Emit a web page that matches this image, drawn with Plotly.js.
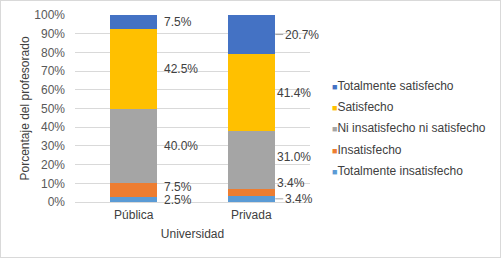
<!DOCTYPE html>
<html><head><meta charset="utf-8">
<script src="https://cdn.plot.ly/plotly-3.0.1.min.js"></script>
<style>html,body{margin:0;padding:0;background:#fff}#c{width:499px;height:256px;border:1px solid #d9d9d9}</style>
</head><body><div id="c"></div>
<script>
const categories = ["Pública", "Privada"];
const seriesNames = ["Totalmente insatisfecho", "Insatisfecho", "Ni insatisfecho ni satisfecho", "Satisfecho", "Totalmente satisfecho"];
const totalmenteInsatisfecho = [2.5, 3.4];
const insatisfecho = [7.5, 3.4];
const niNi = [40.0, 31.0];
const satisfecho = [42.5, 41.4];
const totalmenteSatisfecho = [7.5, 20.7];
const yTicks = [0,10,20,30,40,50,60,70,80,90,100];
const yTickLabels = yTicks.map(v => v + "%");

const values = [totalmenteInsatisfecho, insatisfecho, niNi, satisfecho, totalmenteSatisfecho];
const colors = ["#5B9BD5", "#ED7D31", "#A5A5A5", "#FFC000", "#4472C4"];
const font = "Liberation Sans, Arial, sans-serif";

const traces = values.map((v, i) => ({
  type: "bar", x: categories, y: v, name: seriesNames[i],
  marker: {color: colors[i]}, width: 0.4, showlegend: false, hoverinfo: "none"
}));

// label nudges (px) for small overlapping segments: [series][category]
const yNudge = [[0, 0], [3, 9], [0, 3], [0, 0], [0, 0]];
const leader = [[false, true], [false, false], [false, false], [false, false], [false, true]];
const annotations = [];
categories.forEach((c, ci) => {
  let cum = 0;
  values.forEach((v, si) => {
    const mid = cum + v[ci] / 2;
    cum += v[ci];
    const a = {
      x: c, y: mid, xref: "x", yref: "y", text: v[ci].toFixed(1) + "%",
      font: {family: font, size: 12, color: "#404040"},
      xanchor: "left", yanchor: "middle", yshift: yNudge[si][ci]
    };
    if (leader[si][ci]) {
      Object.assign(a, {showarrow: true, arrowhead: 0, arrowwidth: 1, arrowcolor: "#a6a6a6",
        ax: 8, ay: 0, xshift: 24, standoff: 0});
    } else {
      Object.assign(a, {showarrow: false, xshift: ci === 0 ? 28 : 24});
    }
    annotations.push(a);
  });
});
// legend (top entry = last series)
for (let k = 0; k < seriesNames.length; k++) {
  const si = seriesNames.length - 1 - k;
  annotations.push({
    xref: "paper", yref: "paper", x: 1.085, y: 0.62 - k * 0.1134,
    xanchor: "left", yanchor: "middle", showarrow: false,
    text: '<span style="color:' + colors[si] + ';font-size:9px">■</span>' + seriesNames[si],
    font: {family: font, size: 12, color: "#404040"}
  });
}

const layout = {
  width: 499, height: 256,
  margin: {l: 74, r: 190, t: 14, b: 55},
  barmode: "stack",
  paper_bgcolor: "#fff", plot_bgcolor: "#fff",
  font: {family: font, size: 12, color: "#595959"},
  xaxis: {
    automargin: false, range: [-0.5, 1.5], type: "category",
    title: {text: "Universidad", font: {family: font, size: 12, color: "#404040"}, standoff: 8},
    tickfont: {family: font, size: 12, color: "#404040"}, ticklabelstandoff: 4,
    showgrid: false, showline: false, zeroline: false, ticks: ""
  },
  yaxis: {
    automargin: false,
    title: {text: "Porcentaje del profesorado", font: {family: font, size: 12, color: "#404040"}, standoff: 2},
    range: [0, 100], tickvals: yTicks, ticktext: yTickLabels, ticklabelstandoff: 9,
    tickfont: {family: font, size: 12, color: "#595959"},
    gridcolor: "#d9d9d9", gridwidth: 1, zeroline: true, zerolinecolor: "#d9d9d9",
    showline: false, ticks: ""
  },
  showlegend: false,
  annotations: annotations
};
Plotly.newPlot("c", traces, layout, {displayModeBar: false, staticPlot: true});
</script></body></html>
